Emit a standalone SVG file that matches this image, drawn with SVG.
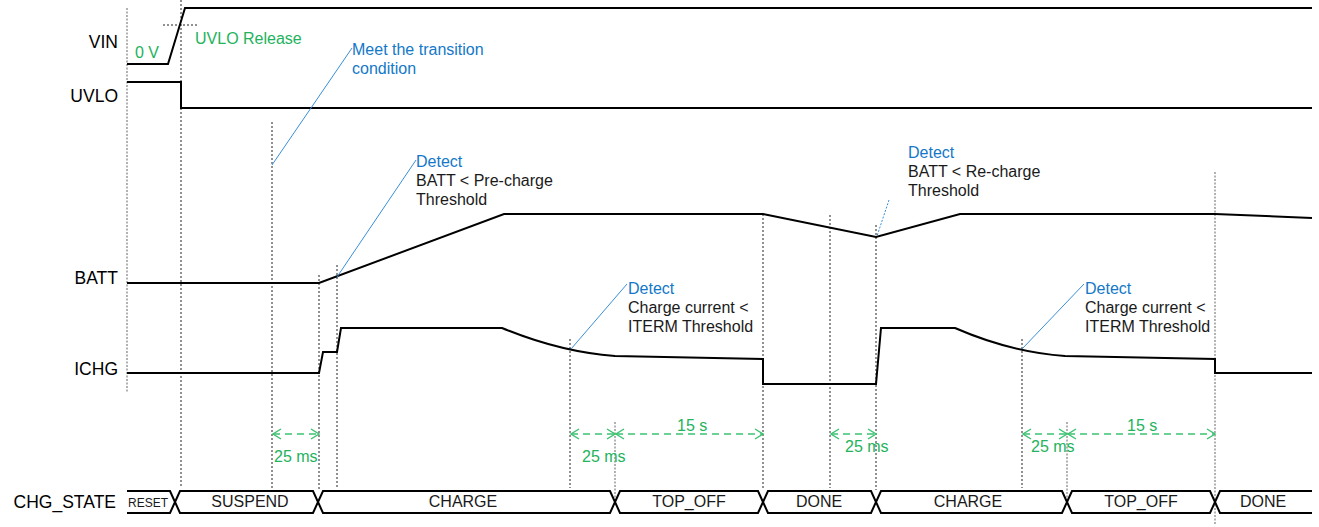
<svg xmlns="http://www.w3.org/2000/svg" width="1319" height="527" viewBox="0 0 1319 527">
<style>
text{font-family:"Liberation Sans",Arial,sans-serif}
.lbl{font-size:17.5px;fill:#000;text-anchor:end}
.ann{font-size:16px;fill:#1a1a1a}
.blue{fill:#1478c8}
.green{fill:#22b35c}
.st{font-size:16px;fill:#1a1a1a;text-anchor:middle}
.sig{fill:none;stroke:#000;stroke-width:2;stroke-linejoin:miter}
.bus{fill:none;stroke:#000;stroke-width:2}
.dot{stroke:#222;stroke-width:1;stroke-dasharray:2,2;fill:none}
.gdot{stroke:#999;stroke-width:1.5;stroke-dasharray:2,1.5;fill:none}
.lead{stroke:#3a8fd8;stroke-width:1;fill:none}
.dim{stroke:#3cc271;stroke-width:1.5;stroke-dasharray:7,5;fill:none;marker-start:url(#ch);marker-end:url(#ch)}
</style>
<defs>
<marker id="ch" viewBox="0 0 10 12" refX="9" refY="6" markerWidth="10" markerHeight="12" markerUnits="userSpaceOnUse" orient="auto-start-reverse">
<path d="M1,1 L9,6 L1,11" fill="none" stroke="#3cc271" stroke-width="1.4" stroke-dasharray="none"/>
</marker>
</defs>
<rect width="1319" height="527" fill="#fff"/>

<g id="guides">
<line class="gdot" x1="127" y1="8" x2="127" y2="393"/>
<line class="dot" x1="181" y1="0" x2="181" y2="487"/>
<line class="dot" x1="163" y1="25" x2="197" y2="25"/>
<line class="dot" x1="272" y1="122" x2="272" y2="488"/>
<line class="dot" x1="319" y1="275" x2="319" y2="490"/>
<line class="dot" x1="337" y1="265" x2="337" y2="488"/>
<line class="dot" x1="570" y1="339" x2="570" y2="488"/>
<line class="gdot" x1="615" y1="422" x2="615" y2="500"/>
<line class="dot" x1="763" y1="214" x2="763" y2="490"/>
<line class="dot" x1="830" y1="215" x2="830" y2="488"/>
<line class="dot" x1="876" y1="225" x2="876" y2="490"/>
<line class="dot" x1="1022" y1="339" x2="1022" y2="488"/>
<line class="gdot" x1="1067" y1="422" x2="1067" y2="500"/>
<line class="gdot" x1="1215" y1="172" x2="1215" y2="525"/>
</g>

<g id="labels">
<text class="lbl" x="118" y="48">VIN</text>
<text class="lbl" x="118" y="102">UVLO</text>
<text class="lbl" x="118" y="284">BATT</text>
<text class="lbl" x="118" y="375">ICHG</text>
<text class="lbl" x="116" y="508">CHG_STATE</text>
</g>

<g id="VIN">
<path class="sig" d="M127,64 H168 L185,8 H1312"/>
<text class="ann green" x="135" y="58">0 V</text>
<text class="ann green" x="195" y="44">UVLO Release</text>
</g>

<g id="UVLO">
<path class="sig" d="M127,82 H181 V108 H1312"/>
</g>

<g id="BATT">
<path class="sig" d="M127,283 H319 L504,214 H763 L876,237 L960,214 H1215 L1312,218"/>
</g>

<g id="ICHG">
<path class="sig" d="M127,373 H319 L323,352 H337 L341,328 H502 Q560,352 615,356 L763,359 V384 H876 L881,328 H955 Q1010,352 1065,356 L1215,359 V373 H1312"/>
</g>

<g id="annotations">
<g id="note-transition">
<text class="ann blue" x="352" y="55">Meet the transition</text>
<text class="ann blue" x="352" y="74">condition</text>
</g>
<g id="note-precharge">
<text class="ann blue" x="416" y="167">Detect</text>
<text class="ann" x="416" y="186">BATT &lt; Pre-charge</text>
<text class="ann" x="416" y="205">Threshold</text>
</g>
<g id="note-recharge">
<text class="ann blue" x="908" y="158">Detect</text>
<text class="ann" x="908" y="177">BATT &lt; Re-charge</text>
<text class="ann" x="908" y="196">Threshold</text>
</g>
<g id="note-iterm1">
<text class="ann blue" x="628" y="294">Detect</text>
<text class="ann" x="628" y="313">Charge current &lt;</text>
<text class="ann" x="628" y="332">ITERM Threshold</text>
</g>
<g id="note-iterm2">
<text class="ann blue" x="1085" y="294">Detect</text>
<text class="ann" x="1085" y="313">Charge current &lt;</text>
<text class="ann" x="1085" y="332">ITERM Threshold</text>
</g>
</g>

<g id="connectors">
<line class="lead" x1="352" y1="48" x2="272" y2="165"/>
<line class="lead" x1="416" y1="160" x2="337" y2="277"/>
<line class="lead" x1="889" y1="200" x2="877" y2="236" stroke-dasharray="2,1.5"/>
<line class="lead" x1="627" y1="284" x2="571" y2="349"/>
<line class="lead" x1="1084" y1="284" x2="1022" y2="349"/>
<line class="dim" x1="273" y1="434" x2="319" y2="434"/>
<line class="dim" x1="571" y1="434" x2="615" y2="434"/>
<line class="dim" x1="616" y1="434" x2="763" y2="434"/>
<line class="dim" x1="831" y1="434" x2="876" y2="434"/>
<line class="dim" x1="1023" y1="434" x2="1067" y2="434"/>
<line class="dim" x1="1068" y1="434" x2="1215" y2="434"/>
</g>

<g id="timing">
<text class="ann green" x="274" y="462">25 ms</text>
<text class="ann green" x="582" y="462">25 ms</text>
<text class="ann green" x="677" y="431">15 s</text>
<text class="ann green" x="845" y="452">25 ms</text>
<text class="ann green" x="1031" y="452">25 ms</text>
<text class="ann green" x="1127" y="431">15 s</text>
</g>

<g id="CHG_STATE">
<g id="s-reset"><path class="bus" d="M127,491 H170 L175,502 L170,513 H127"/><text x="148" y="507" font-size="12" fill="#1a1a1a" text-anchor="middle">RESET</text></g>
<g id="s-suspend"><path class="bus" d="M180,491 H313 L318,502 L313,513 H180 L175,502 Z"/><text class="st" x="250" y="507">SUSPEND</text></g>
<g id="s-charge1"><path class="bus" d="M323,491 H610 L615,502 L610,513 H323 L318,502 Z"/><text class="st" x="463" y="507">CHARGE</text></g>
<g id="s-topoff1"><path class="bus" d="M620,491 H758 L763,502 L758,513 H620 L615,502 Z"/><text class="st" x="689" y="507">TOP_OFF</text></g>
<g id="s-done1"><path class="bus" d="M768,491 H871 L876,502 L871,513 H768 L763,502 Z"/><text class="st" x="819" y="507">DONE</text></g>
<g id="s-charge2"><path class="bus" d="M881,491 H1062 L1067,502 L1062,513 H881 L876,502 Z"/><text class="st" x="968" y="507">CHARGE</text></g>
<g id="s-topoff2"><path class="bus" d="M1072,491 H1210 L1215,502 L1210,513 H1072 L1067,502 Z"/><text class="st" x="1141" y="507">TOP_OFF</text></g>
<g id="s-done2"><path class="bus" d="M1312,491 H1220 L1215,502 L1220,513 H1312"/><text class="st" x="1263" y="507">DONE</text></g>
</g>
</svg>
